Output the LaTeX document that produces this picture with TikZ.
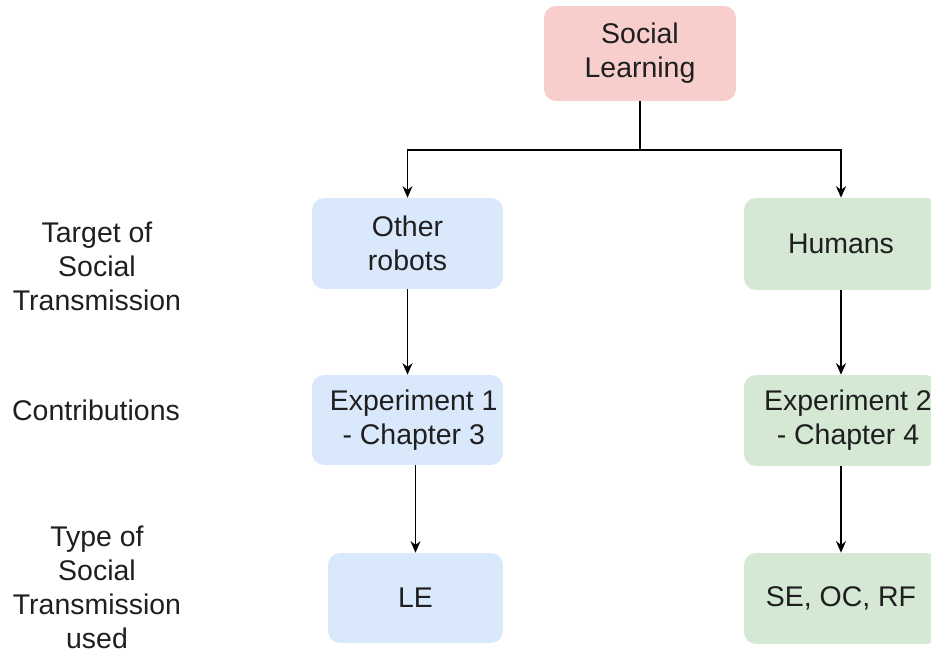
\documentclass[tikz,border=0pt]{standalone}
\usepackage{fontspec}
\setmainfont{Liberation Sans}
\usetikzlibrary{arrows.meta}
\definecolor{redfill}{HTML}{F8CECC}
\definecolor{bluefill}{HTML}{DAE8FC}
\definecolor{greenfill}{HTML}{D5E8D4}
\definecolor{txt}{HTML}{1F1F1F}
\begin{document}
\begin{tikzpicture}[x=0.02cm,y=-0.02cm,
  box/.style={rounded corners=0.24cm, draw=none, align=center, text=txt,
    font=\fontsize{16.2}{19.4}\selectfont, inner sep=0pt},
  sidelabel/.style={align=center, text=txt, font=\fontsize{16.2}{19.4}\selectfont, inner sep=0pt},
  arr/.style={draw=black, line width=0.75pt, -{Stealth[length=2.3mm,width=2mm]}}]
\useasboundingbox (0,0) rectangle (931,652);
% top node
\node[box, fill=redfill, minimum width=3.84cm, minimum height=1.9cm] (sl) at (640,53.5) {Social\\Learning};
% left column
\node[box, fill=bluefill, minimum width=3.82cm, minimum height=1.82cm] (or) at (407.5,243.5) {Other\\robots};
\node[box, fill=bluefill, minimum width=3.82cm, minimum height=1.8cm] (e1) at (407.5,420) {\hspace*{0.25cm}Experiment 1\\\hspace*{0.25cm}- Chapter 3};
\node[box, fill=bluefill, minimum width=3.5cm, minimum height=1.8cm] (le) at (415.5,598) {LE};
% right column
\node[box, fill=greenfill, minimum width=3.88cm, minimum height=1.84cm] (hu) at (841,244) {Humans};
\node[box, fill=greenfill, minimum width=3.88cm, minimum height=1.82cm] (e2) at (841,420.5) {\hspace*{0.28cm}Experiment 2\\\hspace*{0.28cm}- Chapter 4};
\node[box, fill=greenfill, minimum width=3.88cm, minimum height=1.82cm] (se) at (841,598.5) {SE, OC, RF};
% row labels
\node[sidelabel] (l1) at (97,266) {Target of\\Social\\Transmission};
\node[sidelabel] (l2) at (96,410) {Contributions};
\node[sidelabel] (l3) at (97,587) {Type of\\Social\\Transmission\\used};
% connectors
\coordinate (split) at (640,150);
\draw[line width=0.75pt] (sl.south) -- (split);
\draw[arr] (split) -| (or.north);
\draw[arr] (split) -| (hu.north);
\draw[arr] (or.south) -- (e1.north);
\draw[arr] (le.north |- e1.south) -- (le.north);
\draw[arr] (hu.south) -- (e2.north);
\draw[arr] (e2.south) -- (se.north);
\end{tikzpicture}
\end{document}
